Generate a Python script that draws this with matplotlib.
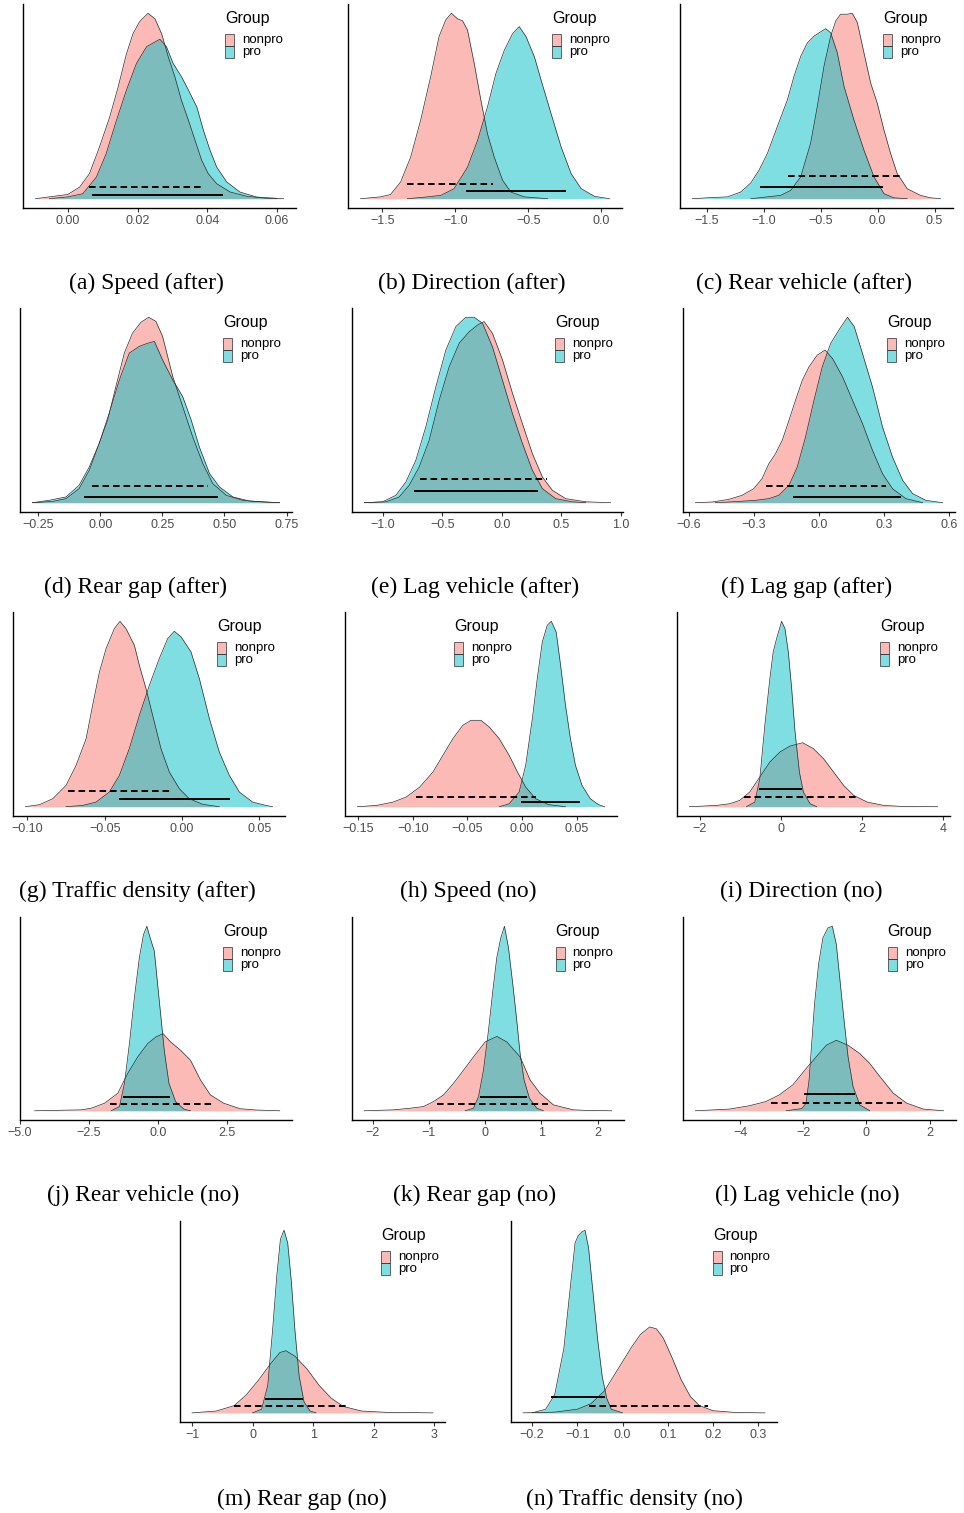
import matplotlib.pyplot as plt
from matplotlib.patches import Rectangle
from matplotlib.colors import to_rgba

plt.rcParams['font.family'] = ['Liberation Sans', 'DejaVu Sans']

# ---- data: posterior densities (peak scaled to 1 per panel) and intervals ----
# (a) Speed (after)
a_np_x = [-0.0093, -0.0053, 0.0, 0.0034, 0.0062, 0.0091, 0.012, 0.0144, 0.0168, 0.0187, 0.0206, 0.023,
          0.025, 0.0269, 0.0288, 0.0307, 0.0326, 0.0346, 0.0365, 0.0384, 0.0403, 0.0427, 0.0466, 0.0514, 0.0571, 0.06]
a_np_d = [0, 0.01, 0.023, 0.063, 0.135, 0.28, 0.44, 0.60, 0.78, 0.89, 0.955, 1.0,
          0.97, 0.89, 0.766, 0.658, 0.53, 0.423, 0.315, 0.207, 0.135, 0.081, 0.036, 0.013, 0.002, 0]
a_p_x = [-0.0053, 0.0, 0.0043, 0.0082, 0.011, 0.0139, 0.0168, 0.0197, 0.0226, 0.0264, 0.0283, 0.0302,
         0.0326, 0.0346, 0.037, 0.0389, 0.0408, 0.0427, 0.0456, 0.0494, 0.0542, 0.0619]
a_p_d = [0, 0.01, 0.027, 0.117, 0.243, 0.42, 0.585, 0.73, 0.82, 0.86, 0.82, 0.73,
         0.658, 0.586, 0.495, 0.369, 0.261, 0.171, 0.09, 0.036, 0.009, 0]
a_ci = [(0.006, 0.0384, 0.061), (0.0072, 0.0442, 0.022)]

# (b) Direction (after)
b_np_x = [-1.649, -1.511, -1.443, -1.374, -1.305, -1.237, -1.168, -1.111, -1.065, -1.026, -0.984, -0.95,
          -0.916, -0.87, -0.824, -0.779, -0.733, -0.676, -0.619, -0.527, -0.367]
b_np_d = [0, 0.01, 0.023, 0.09, 0.225, 0.423, 0.658, 0.874, 0.964, 1.0, 0.97, 0.96,
          0.91, 0.73, 0.53, 0.35, 0.225, 0.1, 0.036, 0.01, 0]
b_p_x = [-1.328, -1.19, -1.099, -1.008, -0.916, -0.847, -0.779, -0.721, -0.664, -0.607, -0.561, -0.515,
         -0.458, -0.412, -0.344, -0.275, -0.206, -0.137, -0.046, 0.057]
b_p_d = [0, 0.01, 0.018, 0.054, 0.17, 0.315, 0.495, 0.676, 0.80, 0.89, 0.928, 0.874,
         0.766, 0.64, 0.46, 0.28, 0.135, 0.054, 0.013, 0]
b_ci = [(-1.328, -0.744, 0.079), (-0.916, -0.245, 0.04)]

# (c) Rear vehicle (after)
c_np_x = [-1.114, -0.968, -0.851, -0.763, -0.675, -0.588, -0.529, -0.471, -0.412, -0.368, -0.325, -0.266,
          -0.222, -0.178, -0.12, -0.061, -0.003, 0.056, 0.114, 0.172, 0.26, 0.377, 0.465, 0.553]
c_np_d = [0, 0.01, 0.018, 0.045, 0.118, 0.30, 0.50, 0.714, 0.877, 0.958, 0.995, 0.995,
          1.0, 0.95, 0.787, 0.624, 0.515, 0.37, 0.244, 0.136, 0.054, 0.018, 0.005, 0]
c_p_x = [-1.626, -1.494, -1.319, -1.202, -1.114, -1.041, -0.968, -0.88, -0.792, -0.734, -0.675, -0.617,
         -0.558, -0.456, -0.412, -0.354, -0.295, -0.208, -0.12, -0.032, 0.056, 0.143, 0.26]
c_p_d = [0, 0.005, 0.01, 0.036, 0.085, 0.154, 0.244, 0.39, 0.533, 0.66, 0.768, 0.84,
         0.877, 0.917, 0.895, 0.787, 0.606, 0.425, 0.262, 0.118, 0.027, 0.005, 0]
c_ci = [(-0.784, 0.193, 0.123), (-1.02, 0.041, 0.061)]

# (d) Rear gap (after)
d_np_x = [-0.273, -0.192, -0.138, -0.085, -0.044, -0.004, 0.03, 0.063, 0.097, 0.13, 0.164, 0.195,
          0.224, 0.251, 0.292, 0.332, 0.372, 0.413, 0.453, 0.507, 0.574, 0.655, 0.722]
d_np_d = [0, 0.007, 0.022, 0.076, 0.175, 0.32, 0.446, 0.626, 0.807, 0.915, 0.973, 1.0,
          0.978, 0.897, 0.68, 0.518, 0.356, 0.211, 0.103, 0.04, 0.013, 0.004, 0]
d_p_x = [-0.273, -0.206, -0.138, -0.085, -0.044, -0.004, 0.036, 0.077, 0.117, 0.157, 0.191, 0.218,
         0.251, 0.292, 0.332, 0.366, 0.399, 0.44, 0.48, 0.534, 0.601, 0.722]
d_p_d = [0, 0.013, 0.031, 0.094, 0.193, 0.32, 0.482, 0.662, 0.807, 0.843, 0.86, 0.87,
         0.77, 0.662, 0.572, 0.446, 0.30, 0.157, 0.085, 0.031, 0.009, 0]
d_ci = [(-0.035, 0.433, 0.09), (-0.06, 0.47, 0.029)]

# (e) Lag vehicle (after)
e_np_x = [-1.155, -0.973, -0.862, -0.778, -0.694, -0.61, -0.526, -0.442, -0.358, -0.274, -0.204, -0.148,
          -0.078, 0.006, 0.09, 0.173, 0.257, 0.341, 0.425, 0.537, 0.705, 0.915]
e_np_d = [0, 0.005, 0.031, 0.094, 0.193, 0.337, 0.553, 0.733, 0.86, 0.922, 0.958, 0.977,
          0.913, 0.77, 0.59, 0.427, 0.265, 0.139, 0.067, 0.022, 0.005, 0]
e_p_x = [-1.155, -1.001, -0.89, -0.806, -0.722, -0.638, -0.554, -0.47, -0.386, -0.302, -0.232, -0.162,
         -0.078, 0.006, 0.09, 0.173, 0.257, 0.341, 0.453, 0.593, 0.705]
e_p_d = [0, 0.005, 0.04, 0.112, 0.229, 0.41, 0.625, 0.823, 0.95, 1.0, 1.0, 0.968,
         0.84, 0.66, 0.48, 0.32, 0.175, 0.076, 0.022, 0.005, 0]
e_ci = [(-0.688, 0.378, 0.13), (-0.727, 0.294, 0.065)]

# (f) Lag gap (after)
f_np_x = [-0.569, -0.492, -0.415, -0.354, -0.30, -0.262, -0.231, -0.20, -0.169, -0.138, -0.108, -0.077,
          -0.046, -0.008, 0.028, 0.062, 0.108, 0.154, 0.2, 0.246, 0.292, 0.338, 0.4, 0.477]
f_np_d = [0, 0.004, 0.018, 0.04, 0.076, 0.13, 0.21, 0.265, 0.337, 0.445, 0.553, 0.66,
          0.733, 0.796, 0.823, 0.778, 0.68, 0.553, 0.427, 0.283, 0.157, 0.076, 0.022, 0]
f_p_x = [-0.477, -0.369, -0.292, -0.231, -0.185, -0.138, -0.1, -0.062, -0.023, 0.015, 0.054, 0.092,
         0.131, 0.162, 0.2, 0.246, 0.292, 0.338, 0.385, 0.431, 0.492, 0.569]
f_p_d = [0, 0.007, 0.013, 0.022, 0.04, 0.094, 0.193, 0.355, 0.553, 0.733, 0.86, 0.932,
         1.0, 0.95, 0.805, 0.625, 0.41, 0.247, 0.121, 0.049, 0.013, 0]
f_ci = [(-0.246, 0.308, 0.09), (-0.115, 0.374, 0.029)]

# (g) Traffic density (after)
g_np_x = [-0.1013, -0.0922, -0.0836, -0.075, -0.0685, -0.062, -0.0578, -0.0534, -0.0491, -0.0438, -0.0401,
          -0.0362, -0.0308, -0.0276, -0.0233, -0.019, -0.0136, -0.0082, -0.0017, 0.0047, 0.0134, 0.0241]
g_np_d = [0, 0.011, 0.043, 0.115, 0.223, 0.367, 0.547, 0.727, 0.853, 0.96, 1.0,
          0.96, 0.87, 0.763, 0.637, 0.493, 0.313, 0.187, 0.097, 0.043, 0.013, 0]
g_p_x = [-0.075, -0.0642, -0.0556, -0.047, -0.0405, -0.0341, -0.0276, -0.0211, -0.0147, -0.0093, -0.005,
         -0.0006, 0.0058, 0.0112, 0.0177, 0.0241, 0.0306, 0.0371, 0.0457, 0.0543, 0.0586]
g_p_d = [0, 0.007, 0.025, 0.079, 0.169, 0.313, 0.493, 0.655, 0.799, 0.906, 0.946,
         0.916, 0.835, 0.691, 0.475, 0.295, 0.169, 0.079, 0.025, 0.007, 0]
g_ci = [(-0.0735, -0.0067, 0.085), (-0.0401, 0.0306, 0.043)]

# (h) Speed (no)
h_np_x = [-0.1506, -0.133, -0.118, -0.106, -0.0936, -0.0815, -0.0724, -0.0633, -0.0542, -0.0467, -0.0376,
          -0.03, -0.0209, -0.0118, -0.0042, 0.0033, 0.0124, 0.0245, 0.0397]
h_np_d = [0, 0.007, 0.025, 0.052, 0.106, 0.187, 0.277, 0.367, 0.439, 0.466, 0.466,
          0.43, 0.367, 0.277, 0.187, 0.106, 0.043, 0.011, 0]
h_p_x = [-0.0209, -0.0118, -0.0027, 0.0033, 0.0094, 0.0139, 0.0185, 0.023, 0.0267, 0.0312, 0.0352,
         0.0397, 0.0442, 0.0488, 0.0548, 0.0624, 0.07, 0.0755]
h_p_d = [0, 0.016, 0.079, 0.223, 0.475, 0.691, 0.888, 0.978, 1.0, 0.942, 0.763,
         0.547, 0.367, 0.223, 0.115, 0.043, 0.011, 0]
h_ci = [(-0.0973, 0.0124, 0.05), (0.0003, 0.0524, 0.025)]

# (i) Direction (no)
i_np_x = [-2.25, -1.59, -1.258, -1.01, -0.762, -0.513, -0.265, -0.017, 0.232, 0.546, 0.811, 1.06,
          1.308, 1.556, 1.805, 2.136, 2.55, 2.963, 3.874]
i_np_d = [0, 0.007, 0.016, 0.034, 0.079, 0.16, 0.241, 0.295, 0.327, 0.345, 0.313, 0.259,
          0.187, 0.115, 0.061, 0.025, 0.007, 0.002, 0]
i_p_x = [-0.844, -0.637, -0.513, -0.389, -0.265, -0.182, -0.099, 0.025, 0.108, 0.19, 0.273, 0.356,
         0.464, 0.563, 0.728, 0.894]
i_p_d = [0, 0.025, 0.151, 0.439, 0.691, 0.835, 0.906, 1.0, 0.96, 0.835, 0.637, 0.403,
         0.187, 0.079, 0.016, 0]
i_ci = [(-0.91, 1.904, 0.05), (-0.497, 0.505, 0.094)]

# (j) Rear vehicle (no)
j_np_x = [-4.47, -2.78, -2.42, -1.94, -1.46, -1.1, -0.74, -0.38, -0.08, 0.18, 0.45, 0.81,
          1.17, 1.53, 1.89, 2.37, 2.97, 3.56, 4.4]
j_np_d = [0, 0.005, 0.014, 0.041, 0.095, 0.203, 0.292, 0.364, 0.4, 0.418, 0.373, 0.328,
          0.274, 0.167, 0.086, 0.041, 0.011, 0.004, 0]
j_p_x = [-1.7, -1.4, -1.22, -1.04, -0.86, -0.68, -0.53, -0.41, -0.29, -0.14, -0.02, 0.1,
         0.22, 0.39, 0.63, 0.93, 1.17]
j_p_d = [0, 0.023, 0.149, 0.364, 0.615, 0.83, 0.955, 1.0, 0.937, 0.866, 0.686, 0.507,
         0.328, 0.149, 0.05, 0.009, 0]
j_ci = [(-1.73, 2.01, 0.034), (-1.22, 0.39, 0.073)]

# (k) Rear gap (no)
k_np_x = [-2.148, -1.627, -1.331, -1.095, -0.917, -0.74, -0.562, -0.385, -0.207, 0.0, 0.207, 0.385,
          0.621, 0.799, 0.976, 1.213, 1.568, 1.805, 2.249]
k_np_d = [0, 0.005, 0.014, 0.023, 0.05, 0.086, 0.149, 0.22, 0.292, 0.373, 0.403, 0.373,
          0.292, 0.167, 0.095, 0.032, 0.005, 0.002, 0]
k_p_x = [-0.355, -0.207, -0.118, -0.03, 0.059, 0.136, 0.207, 0.278, 0.343, 0.414, 0.491, 0.562,
         0.621, 0.692, 0.787, 0.917, 1.036]
k_p_d = [0, 0.014, 0.077, 0.22, 0.435, 0.65, 0.83, 0.937, 1.0, 0.884, 0.686, 0.489,
         0.31, 0.167, 0.068, 0.014, 0]
k_ci = [(-0.858, 1.124, 0.034), (-0.077, 0.722, 0.077)]

# (l) Lag vehicle (no)
l_np_x = [-5.43, -4.36, -3.72, -3.19, -2.77, -2.34, -1.915, -1.596, -1.277, -0.957, -0.585, -0.213,
          0.106, 0.426, 0.851, 1.277, 1.809, 2.447]
l_np_d = [0, 0.009, 0.027, 0.05, 0.086, 0.14, 0.229, 0.292, 0.355, 0.382, 0.355, 0.31,
          0.256, 0.185, 0.095, 0.041, 0.009, 0]
l_p_x = [-2.55, -2.05, -1.92, -1.82, -1.755, -1.649, -1.521, -1.383, -1.223, -1.085, -0.957, -0.851,
         -0.723, -0.585, -0.426, -0.213, 0.106]
l_p_d = [0, 0.012, 0.04, 0.17, 0.328, 0.579, 0.794, 0.937, 0.991, 1.0, 0.901, 0.722,
         0.507, 0.292, 0.131, 0.032, 0]
l_ci = [(-3.03, 1.117, 0.043), (-1.936, -0.394, 0.093)]

# (m) Rear gap (no)
m_np_x = [-1.0, -0.6, -0.3, -0.1, 0.1, 0.3, 0.45, 0.55, 0.7, 0.9, 1.1, 1.3, 1.5, 1.8, 2.2, 2.98]
m_np_d = [0, 0.01, 0.04, 0.1, 0.18, 0.27, 0.33, 0.34, 0.31, 0.24, 0.15, 0.08, 0.035, 0.01, 0.003, 0]
m_p_x = [0.0, 0.15, 0.25, 0.33, 0.4, 0.46, 0.52, 0.58, 0.64, 0.7, 0.77, 0.85, 0.95, 1.05]
m_p_d = [0, 0.02, 0.15, 0.45, 0.75, 0.95, 1.0, 0.93, 0.72, 0.45, 0.2, 0.06, 0.01, 0]
m_ci = [(-0.31, 1.54, 0.038), (0.23, 0.82, 0.075)]

# (n) Traffic density (no)
n_np_x = [-0.22, -0.15, -0.1, -0.07, -0.04, -0.02, 0.0, 0.02, 0.04, 0.06, 0.075, 0.09, 0.11, 0.13,
          0.15, 0.17, 0.2, 0.25, 0.315]
n_np_d = [0, 0.004, 0.02, 0.05, 0.12, 0.2, 0.28, 0.36, 0.43, 0.47, 0.46, 0.41, 0.3, 0.18,
          0.09, 0.04, 0.012, 0.002, 0]
n_p_x = [-0.2, -0.17, -0.15, -0.13, -0.115, -0.105, -0.098, -0.09, -0.083, -0.075, -0.065, -0.055,
         -0.045, -0.035, -0.025, 0.0]
n_p_d = [0, 0.02, 0.1, 0.35, 0.7, 0.93, 0.97, 0.99, 1.0, 0.9, 0.65, 0.4, 0.2, 0.08, 0.02, 0]
n_ci = [(-0.074, 0.19, 0.038), (-0.157, -0.04, 0.087)]

group_names = ['nonpro', 'pro']

W, H = 964, 1513
PINK = '#F8766D'
CYAN = '#00BFC4'

fig = plt.figure(figsize=(W / 100, H / 100), dpi=100, facecolor='white')


def add_panel(rect, np_x, np_d, p_x, p_d, ci, ticks, labels, leg_x, caption, cap_xy):
    left, top, right, bottom = rect
    ax = fig.add_axes([left / W, 1 - bottom / H, (right - left) / W, (bottom - top) / H])
    for xs, ds, col in ((np_x, np_d, PINK), (p_x, p_d, CYAN)):
        ax.fill_between(xs, 0, ds, color=col, alpha=0.5, linewidth=0)
        ax.plot(xs, ds, color='#2b2b2b', lw=0.5)
    (lo1, hi1, y1), (lo2, hi2, y2) = ci
    ax.plot([lo1, hi1], [y1, y1], color='black', lw=1.4, ls=(0, (3.4, 2.0)))
    ax.plot([lo2, hi2], [y2, y2], color='black', lw=1.4)

    allx = np_x + p_x + [lo1, hi1, lo2, hi2]
    xmin, xmax = min(allx), max(allx)
    pad = 0.05 * (xmax - xmin)
    ax.set_xlim(xmin - pad, xmax + pad)
    ymax = max(max(np_d), max(p_d))
    ax.set_ylim(-0.05 * ymax, 1.05 * ymax)

    for s in ('top', 'right'):
        ax.spines[s].set_visible(False)
    for s in ('left', 'bottom'):
        ax.spines[s].set_linewidth(1.0)
        ax.spines[s].set_color('black')
    ax.set_yticks([])
    ax.set_xticks(ticks)
    ax.set_xticklabels(labels)
    ax.tick_params(axis='x', length=3, width=0.8, color='#333333', labelsize=9,
                   labelcolor='#4D4D4D', pad=2)
    ax.set_facecolor('white')

    # legend, drawn by hand like ggplot's
    ax.text(leg_x, 0.93, 'Group', transform=ax.transAxes, fontsize=11.5, va='center', ha='left')
    kw, kh = 9 / (right - left), 12 / (bottom - top)
    for i, (name, col) in enumerate(zip(group_names, (PINK, CYAN))):
        y = 0.853 - (i + 1) * kh
        ax.add_patch(Rectangle((leg_x, y), kw, kh, transform=ax.transAxes, clip_on=False,
                               facecolor=to_rgba(col, 0.5), edgecolor='#2b2b2b', lw=0.5))
        ax.text(leg_x + 0.062, y + kh / 2, name, transform=ax.transAxes, fontsize=9.5,
                va='center', ha='left')

    fig.text(cap_xy[0] / W, 1 - cap_xy[1] / H, caption, fontsize=17, family='Liberation Serif',
             ha='center', va='center')
    return ax


M = '\u2212'
add_panel((23, 4, 296, 208), a_np_x, a_np_d, a_p_x, a_p_d, a_ci,
          [0, 0.02, 0.04, 0.06], ['0.00', '0.02', '0.04', '0.06'], 0.74,
          '(a) Speed (after)', (146, 283))
add_panel((348, 4, 622, 208), b_np_x, b_np_d, b_p_x, b_p_d, b_ci,
          [-1.5, -1.0, -0.5, 0.0], [M + '1.5', M + '1.0', M + '0.5', '0.0'], 0.745,
          '(b) Direction (after)', (472, 283))
add_panel((680, 4, 953, 208), c_np_x, c_np_d, c_p_x, c_p_d, c_ci,
          [-1.5, -1.0, -0.5, 0.0, 0.5], [M + '1.5', M + '1.0', M + '0.5', '0.0', '0.5'], 0.744,
          '(c) Rear vehicle (after)', (804, 283))

add_panel((20, 308, 292, 512), d_np_x, d_np_d, d_p_x, d_p_d, d_ci,
          [-0.25, 0, 0.25, 0.5, 0.75], [M + '0.25', '0.00', '0.25', '0.50', '0.75'], 0.746,
          '(d) Rear gap (after)', (136, 587))
add_panel((352, 308, 623, 512), e_np_x, e_np_d, e_p_x, e_p_d, e_ci,
          [-1.0, -0.5, 0.0, 0.5, 1.0], [M + '1.0', M + '0.5', '0.0', '0.5', '1.0'], 0.749,
          '(e) Lag vehicle (after)', (475, 587))
add_panel((683, 308, 955, 512), f_np_x, f_np_d, f_p_x, f_p_d, f_ci,
          [-0.6, -0.3, 0.0, 0.3, 0.6], [M + '0.6', M + '0.3', '0.0', '0.3', '0.6'], 0.75,
          '(f) Lag gap (after)', (807, 587))

add_panel((13, 612, 285, 816), g_np_x, g_np_d, g_p_x, g_p_d, g_ci,
          [-0.1, -0.05, 0.0, 0.05], [M + '0.10', M + '0.05', '0.00', '0.05'], 0.75,
          '(g) Traffic density (after)', (137, 891))
add_panel((345, 612, 617, 816), h_np_x, h_np_d, h_p_x, h_p_d, h_ci,
          [-0.15, -0.1, -0.05, 0.0, 0.05], [M + '0.15', M + '0.10', M + '0.05', '0.00', '0.05'], 0.40,
          '(h) Speed (no)', (468, 891))
add_panel((677, 612, 950, 816), i_np_x, i_np_d, i_p_x, i_p_d, i_ci,
          [-2, 0, 2, 4], [M + '2', '0', '2', '4'], 0.744,
          '(i) Direction (no)', (801, 891))

add_panel((20, 917, 292, 1120), j_np_x, j_np_d, j_p_x, j_p_d, j_ci,
          [-5.0, -2.5, 0.0, 2.5], [M + '5.0', M + '2.5', '0.0', '2.5'], 0.746,
          '(j) Rear vehicle (no)', (143, 1195))
add_panel((352, 917, 624, 1120), k_np_x, k_np_d, k_p_x, k_p_d, k_ci,
          [-2, -1, 0, 1, 2], [M + '2', M + '1', '0', '1', '2'], 0.749,
          '(k) Rear gap (no)', (475, 1195))
add_panel((683, 917, 956, 1120), l_np_x, l_np_d, l_p_x, l_p_d, l_ci,
          [-4, -2, 0, 2], [M + '4', M + '2', '0', '2'], 0.75,
          '(l) Lag vehicle (no)', (807, 1195))

add_panel((180, 1221, 445, 1422), m_np_x, m_np_d, m_p_x, m_p_d, m_ci,
          [-1, 0, 1, 2, 3], [M + '1', '0', '1', '2', '3'], 0.76,
          '(m) Rear gap (no)', (302, 1499))
add_panel((511, 1221, 777, 1422), n_np_x, n_np_d, n_p_x, n_p_d, n_ci,
          [-0.2, -0.1, 0.0, 0.1, 0.2, 0.3], [M + '0.2', M + '0.1', '0.0', '0.1', '0.2', '0.3'], 0.76,
          '(n) Traffic density (no)', (634, 1499))

fig.savefig('out.png', dpi=100, facecolor='white')
